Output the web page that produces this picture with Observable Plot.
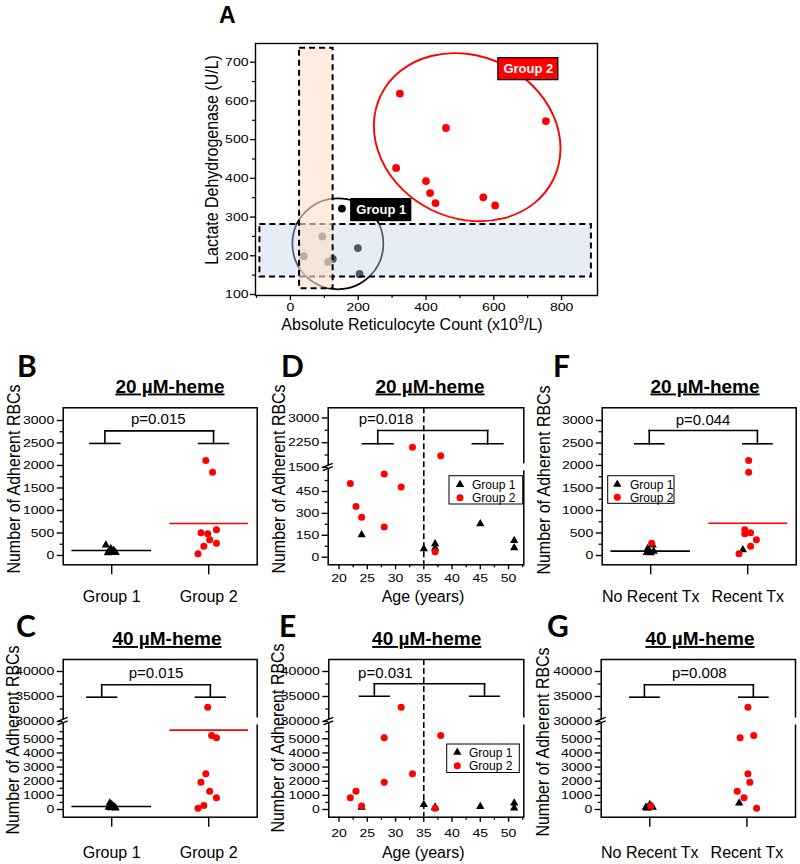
<!DOCTYPE html>
<html>
<head>
<meta charset="utf-8">
<script src="https://cdn.jsdelivr.net/npm/d3@7"></script>
<script src="https://cdn.jsdelivr.net/npm/@observablehq/plot@0.6"></script>
<style>
html,body{margin:0;padding:0;background:#fff;}
#fig{position:relative;width:800px;height:864px;overflow:hidden;background:#fff;}
</style>
</head>
<body>
<div id="fig"></div>
<script>
// ================= DATA =================
// Panel A : reticulocytes vs LDH
const aG1X = [152, 94, 39, 111, 125, 199, 204];
const aG1Y = [322, 250, 199, 184, 192, 220, 153];
const aG2X = [323, 312, 400, 412, 428, 459, 569, 604, 754];
const aG2Y = [619, 427, 393, 362, 336, 530, 351, 330, 548];
const aXTicks = [0, 200, 400, 600, 800];
const aXMinor = [-100, 100, 300, 500, 700];
const aYTicks = [100, 200, 300, 400, 500, 600, 700];
const aYMinor = [150, 250, 350, 450, 550, 650];
const aLabels = ["Group 1", "Group 2"];

// Panel B : 20 µM-heme by group
const bG1X = [0.94, 0.99, 1.02, 1.00, 0.97, 1.04, 0.96];
const bG1V = [229, 153, 114, 92, 64, 62, 57];
const bG2X = [1.97, 2.04, 1.92, 1.99, 2.08, 2.01, 2.08, 1.95, 1.89];
const bG2V = [2111, 1852, 504, 481, 570, 348, 274, 207, 37];
const bMeans = [111, 711];
// Panel C : 40 µM-heme by group
const cG1X = [0.97, 1.00, 1.03, 0.99, 1.02, 0.98, 1.04];
const cG1V = [160, 354, 150, 120, 212, 446, 100];
const cG2X = [1.99, 2.03, 2.08, 1.97, 1.92, 2.01, 2.08, 1.95, 1.89];
const cG2V = [32860, 5237, 5074, 2527, 1932, 1295, 828, 283, 92];
const cMeans = [212, 5610];
// Panel D : 20 µM-heme vs age
const dG1Age = [24, 35, 37, 37, 45, 51, 51];
const dG1V = [153, 57, 92, 62, 229, 114, 64];
const dG2Age = [22, 23, 24, 28, 28, 31, 33, 37, 38];
const dG2V = [504, 348, 274, 570, 207, 481, 2111, 37, 1852];
// Panel E : 40 µM-heme vs age
const eG1Age = [24, 35, 37, 37, 45, 51, 51];
const eG1V = [160, 354, 150, 120, 212, 446, 100];
const eG2Age = [22, 23, 24, 28, 28, 31, 33, 37, 38];
const eG2V = [828, 1295, 250, 5074, 1932, 32860, 2527, 92, 5237];
// Panel F : 20 µM-heme by transfusion
const fG1X = [0.97, 1.00, 1.03, 0.99, 1.02, 0.96, 1.95];
const fG1V = [153, 57, 92, 62, 229, 64, 125];
const fG2X = [1.01, 2.01, 2.01, 1.97, 1.97, 2.03, 2.09, 2.03, 1.91];
const fG2V = [274, 2111, 1852, 570, 481, 504, 348, 207, 37];
const fMeans = [96, 718];
// Panel G : 40 µM-heme by transfusion
const gG1X = [0.96, 1.00, 1.03, 0.98, 1.02, 0.97, 1.92];
const gG1V = [160, 354, 150, 120, 212, 100, 446];
const gG2X = [1.01, 2.01, 1.93, 2.07, 2.01, 2.03, 1.90, 1.97, 2.10];
const gG2V = [250, 32860, 5074, 5237, 2527, 1932, 1295, 828, 92];

// categories and tick labels
const groupCats = ["Group 1", "Group 2"];
const txCats = ["No Recent Tx", "Recent Tx"];
const ageTicks = [20, 25, 30, 35, 40, 45, 50];
const ageMinor = [22.5, 27.5, 32.5, 37.5, 42.5, 47.5, 52.5];
const y20Ticks = [0, 500, 1000, 1500, 2000, 2500, 3000];
const y20Minor = [250, 750, 1250, 1750, 2250, 2750];
const y20bTicks = [0, 150, 300, 450, 1500, 2250, 3000];
const y20bMinor = [75, 225, 375, 525, 1875, 2625];
const y40Ticks = [0, 1000, 2000, 3000, 4000, 5000, 30000, 35000, 40000];
const y40Minor = [500, 1500, 2500, 3500, 4500, 5500, 32500, 37500];
const pValues = {B: "p=0.015", C: "p=0.015", D: "p=0.018", E: "p=0.031", F: "p=0.044", G: "p=0.008"};

// ================= HELPERS =================
const FONT = "'Liberation Sans', Arial, Helvetica, sans-serif";
const RED = "#ff0000";
const TICK_FONT = 11.7, TICK_STRETCH = 1.2;
const fig = document.getElementById("fig");
function put(node, left, top) {
  node.style.position = "absolute";
  node.style.left = left + "px";
  node.style.top = top + "px";
  fig.appendChild(node);
}
const baseStyle = {fontFamily: FONT, fontSize: "14px", color: "black", background: "transparent", overflow: "visible"};

// widen numeric tick labels (the reference lettering is horizontally stretched)
function widenTicks(svg, axes) {
  for (const a of axes) {
    svg.querySelectorAll(`g[aria-label='${a}-axis tick label'] text`).forEach(t => {
      const tr = t.getAttribute("transform");
      if (tr && tr.includes("translate")) t.setAttribute("transform", tr + ` scale(${TICK_STRETCH},1)`);
    });
  }
}

// broken-axis mappings (value -> display coordinate)
const brk20 = v => v <= 615 ? v : 615 + (v - 1500) * 0.2256;
const brk40 = v => v <= 6224 ? v : 6224 + (v - 30000) * 0.3536;
const ident = v => v;

function breakMark(yd) {
  return (_, {y}, v, dim) => {
    const py = y(yd), xl = dim.marginLeft, xr = dim.width - dim.marginRight;
    const g = d3.create("svg:g");
    g.append("rect").attr("x", xr - 2).attr("y", py - 3.5).attr("width", 4).attr("height", 7).attr("fill", "white");
    g.append("path").attr("d", `M${xl-3},${py}L${xl+3},${py-2.5}L${xl+3},${py+0.5}L${xl-3},${py+3}Z`).attr("fill", "white");
    for (const o of [-1.6, 1.8]) {
      g.append("line").attr("x1", xl - 5).attr("y1", py + o + 2).attr("x2", xl + 5).attr("y2", py + o - 2)
        .attr("stroke", "black").attr("stroke-width", 1.4);
    }
    return g.node();
  };
}

function legendMark(L) {
  return (_, s, v, dim) => {
    const g = d3.create("svg:g").attr("text-anchor", "start");
    const x0 = dim.marginLeft + L.dx, y0 = dim.marginTop + L.dy;
    g.append("rect").attr("x", x0).attr("y", y0).attr("width", L.w).attr("height", L.h)
      .attr("fill", "white").attr("stroke", "black").attr("stroke-width", 1);
    const rows = [
      {sym: d3.symbolTriangle, size: Math.PI * 3.1 * 3.1, fill: "black", t: groupCats[0], y: L.r1},
      {sym: d3.symbolCircle, size: Math.PI * 3.5 * 3.5, fill: RED, t: groupCats[1], y: L.r2}
    ];
    for (const r of rows) {
      g.append("path").attr("d", d3.symbol(r.sym, r.size)()).attr("transform", `translate(${x0 + L.sx},${y0 + r.y})`).attr("fill", r.fill);
      g.append("text").attr("x", x0 + L.tx).attr("y", y0 + r.y).attr("dy", "0.36em").attr("text-anchor", "start")
        .attr("font-size", 12).attr("fill", "black").text(r.t);
    }
    return g.node();
  };
}

function makePanel(o) {
  const ym = o.ymap;
  const yLab = new Map(o.yTicks.map(v => [ym(v), String(v)]));
  const g1 = o.g1x.map((x, i) => ({x, y: ym(o.g1v[i])}));
  const g2 = o.g2x.map((x, i) => ({x, y: ym(o.g2v[i])}));
  const b = o.bracket;
  const segs = [
    {x1: b.xl - b.h, x2: b.xl + b.h, y1: b.yArm, y2: b.yArm},
    {x1: b.xl, x2: b.xl, y1: b.yArm, y2: b.yTop},
    {x1: b.xl, x2: b.xr, y1: b.yTop, y2: b.yTop},
    {x1: b.xr, x2: b.xr, y1: b.yTop, y2: b.yArm},
    {x1: b.xr - b.h, x2: b.xr + b.h, y1: b.yArm, y2: b.yArm}
  ].map(s => ({...s, y1: ym(s.y1), y2: ym(s.y2)}));
  const marks = [];
  if (o.vline != null) marks.push(Plot.ruleX([o.vline], {stroke: "black", strokeWidth: 1.6, strokeDasharray: "6,3"}));
  marks.push(Plot.link(segs, {x1: "x1", y1: "y1", x2: "x2", y2: "y2", stroke: "black", strokeWidth: 1.6, strokeLinecap: "square"}));
  marks.push(Plot.text([o.p], {x: "x", y: d => ym(d.y), text: "t", fontSize: 15, fill: "black"}));
  if (o.means) {
    marks.push(Plot.ruleY([o.means[0]], {y: d => ym(d), x1: 0.59, x2: 1.41, stroke: "black", strokeWidth: 1.6}));
    marks.push(Plot.ruleY([o.means[1]], {y: d => ym(d), x1: 1.6, x2: 2.41, stroke: RED, strokeWidth: 1.6}));
  }
  marks.push(Plot.dot(g1, {x: "x", y: "y", symbol: "triangle", r: 3.1, fill: "black"}));
  marks.push(Plot.dot(g2, {x: "x", y: "y", r: 3.5, fill: RED}));
  marks.push(Plot.frame({stroke: "black", strokeWidth: 1.5}));
  if (o.breakAt != null) marks.push(breakMark(ym(o.breakAt)));
  marks.push(Plot.axisY(o.yMinor.map(ym), {tickSize: 3, tickFormat: () => "", label: null, strokeWidth: 1.3}));
  marks.push(Plot.axisY(o.yTicks.map(ym), {tickSize: 6, tickPadding: 3, fontSize: TICK_FONT, label: null, strokeWidth: 1.4, tickFormat: d => yLab.get(d)}));
  if (o.cats) {
    marks.push(Plot.axisX([1, 2], {tickSize: 10, tickPadding: o.xPad, fontSize: 16, label: null, strokeWidth: 1.4, tickFormat: d => o.cats[d - 1]}));
  } else {
    marks.push(Plot.axisX(ageMinor, {tickSize: 3, tickFormat: () => "", label: null, strokeWidth: 1.3}));
    marks.push(Plot.axisX(ageTicks, {tickSize: 5, tickPadding: o.xPad, fontSize: TICK_FONT, label: null, strokeWidth: 1.4, tickFormat: d => String(d)}));
  }
  if (o.legend) marks.push(legendMark(o.legend));
  const svg = Plot.plot({
    width: o.width, height: o.height,
    marginLeft: o.ml, marginRight: o.mr, marginTop: o.mt, marginBottom: o.mb,
    style: baseStyle,
    x: {domain: o.xdom},
    y: {domain: o.ydom},
    marks
  });
  widenTicks(svg, o.cats ? ["y"] : ["x", "y"]);
  return svg;
}

// ================= PANEL A =================
{
  const g1 = aG1X.map((x, i) => ({x, y: aG1Y[i]}));
  const g2 = aG2X.map((x, i) => ({x, y: aG2Y[i]}));
  // annotation shapes (data coordinates)
  const blueBox = {x1: -90, x2: 888, y1: 145, y2: 281};
  const orangeBox = {x1: 27, x2: 126, y1: 115, y2: 736};
  const circ = {x: 140, y: 231};
  const ell = {x: 523, y: 505};
  const labelPos = [{t: aLabels[0], x: 268, y: 318, bg: "black"}, {t: aLabels[1], x: 702, y: 682, bg: RED}];
  const rectOpts = {x1: "x1", x2: "x2", y1: "y1", y2: "y2"};
  const svg = Plot.plot({
    width: 410, height: 300, marginLeft: 55, marginRight: 13, marginTop: 13, marginBottom: 35,
    style: baseStyle,
    x: {domain: [-103, 906]},
    y: {domain: [97.4, 748.3]},
    marks: [
      Plot.dot(g1, {x: "x", y: "y", r: 3.9, fill: "black"}),
      Plot.dot(g2, {x: "x", y: "y", r: 3.9, fill: RED}),
      Plot.dot([circ], {x: "x", y: "y", r: 45.5, fill: "none", stroke: "black", strokeWidth: 1.7}),
      (_, {x, y}) => {
        const cx = x(ell.x), cy = y(ell.y);
        const e = d3.create("svg:ellipse").attr("cx", cx).attr("cy", cy).attr("rx", 96).attr("ry", 81)
          .attr("transform", `rotate(26 ${cx} ${cy})`).attr("fill", "none").attr("stroke", RED).attr("stroke-width", 1.9);
        return e.node();
      },
      Plot.rect([blueBox], {...rectOpts, fill: "#c3d3ec", fillOpacity: 0.42}),
      Plot.rect([blueBox], {...rectOpts, fill: "none", stroke: "black", strokeWidth: 2, strokeDasharray: "6,4"}),
      Plot.rect([orangeBox], {...rectOpts, fill: "#fbe1cb", fillOpacity: 0.62}),
      Plot.rect([orangeBox], {...rectOpts, fill: "none", stroke: "black", strokeWidth: 2, strokeDasharray: "6,4"}),
      (_, {x, y}) => {
        const g = d3.create("svg:g");
        for (const l of labelPos) {
          g.append("rect").attr("x", x(l.x) - 30).attr("y", y(l.y) - 11).attr("width", 60).attr("height", 22)
            .attr("fill", l.bg).attr("stroke", "black").attr("stroke-width", 1.2);
        }
        return g.node();
      },
      Plot.text(labelPos, {x: "x", y: "y", text: "t", fill: "white", fontWeight: "bold", fontSize: 13}),
      Plot.frame({stroke: "black", strokeWidth: 1.4}),
      Plot.axisX(aXMinor, {tickSize: 3, tickFormat: () => "", label: null, strokeWidth: 1.2}),
      Plot.axisX(aXTicks, {tickSize: 5, tickPadding: 2, fontSize: TICK_FONT, label: null, strokeWidth: 1.3, tickFormat: d => String(d)}),
      Plot.axisY(aYMinor, {tickSize: 3, tickFormat: () => "", label: null, strokeWidth: 1.2}),
      Plot.axisY(aYTicks, {tickSize: 5, tickPadding: 2, fontSize: TICK_FONT, label: null, strokeWidth: 1.3, tickFormat: d => String(d)})
    ]
  });
  widenTicks(svg, ["x", "y"]);
  put(svg, 200, 30);
}

// ================= PANELS B-G =================
const row1 = {top: 395, height: 210, mt: 12.3, mb: 40.7};
const row2 = {top: 645, height: 219, mt: 14, mb: 47.3};

put(makePanel({
  width: 265, height: row1.height, ml: 62.7, mr: 8.3, mt: row1.mt, mb: row1.mb,
  xdom: [0.5, 2.5], ydom: [-207, 3282], ymap: ident,
  yTicks: y20Ticks, yMinor: y20Minor, cats: groupCats, xPad: 16,
  g1x: bG1X, g1v: bG1V, g2x: bG2X, g2v: bG2V, means: bMeans,
  bracket: {xl: 0.93, xr: 2.05, h: 0.154, yTop: 2770, yArm: 2490},
  p: {x: 1.48, y: 3038, t: pValues.B}
}), 0, row1.top);

put(makePanel({
  width: 265, height: row2.height, ml: 62.7, mr: 8.3, mt: row2.mt, mb: row2.mb,
  xdom: [0.5, 2.5], ydom: [-545, 10608], ymap: brk40, breakAt: 30000,
  yTicks: y40Ticks, yMinor: y40Minor, cats: groupCats, xPad: 19,
  g1x: cG1X, g1v: cG1V, g2x: cG2X, g2v: cG2V, means: cMeans,
  bracket: {xl: 0.897, xr: 2.017, h: 0.153, yTop: 37340, yArm: 34860},
  p: {x: 1.457, y: 39737, t: pValues.C}
}), 0, row2.top);

put(makePanel({
  width: 270, height: row1.height, ml: 62.7, mr: 11.7, mt: row1.mt, mb: row1.mb,
  xdom: [18.08, 52.7], ydom: [-52, 1023], ymap: brk20, breakAt: 1500,
  yTicks: y20bTicks, yMinor: y20bMinor, xPad: 4, vline: 35,
  g1x: dG1Age, g1v: dG1V, g2x: dG2Age, g2v: dG2V,
  bracket: {xl: 26.85, xr: 46.3, h: 2.7, yTop: 2621, yArm: 2217},
  p: {x: 28.3, y: 2976, t: pValues.D},
  legend: {dx: 121.3, dy: 68.4, w: 73.7, h: 28.3, sx: 11, tx: 23, r1: 8.8, r2: 22}
}), 265, row1.top);

put(makePanel({
  width: 270, height: row2.height, ml: 63.3, mr: 11.7, mt: row2.mt, mb: row2.mb,
  xdom: [18.19, 52.7], ydom: [-545, 10608], ymap: brk40, breakAt: 30000,
  yTicks: y40Ticks, yMinor: y40Minor, xPad: 6, vline: 35,
  g1x: eG1Age, g1v: eG1V, g2x: eG2Age, g2v: eG2V,
  bracket: {xl: 26.25, xr: 45.75, h: 2.63, yTop: 37540, yArm: 35060},
  p: {x: 28.2, y: 39737, t: pValues.E},
  legend: {dx: 118.4, dy: 85, w: 72.6, h: 28.5, sx: 10.6, tx: 22.3, r1: 8.3, r2: 21.8}
}), 265, row2.top);

put(makePanel({
  width: 265, height: row1.height, ml: 66.7, mr: 4.3, mt: row1.mt, mb: row1.mb,
  xdom: [0.5, 2.5], ydom: [-207, 3282], ymap: ident,
  yTicks: y20Ticks, yMinor: y20Minor, cats: txCats, xPad: 16,
  g1x: fG1X, g1v: fG1V, g2x: fG2X, g2v: fG2V, means: fMeans,
  bracket: {xl: 0.985, xr: 2.1, h: 0.15, yTop: 2778, yArm: 2482},
  p: {x: 1.54, y: 3016, t: pValues.F},
  legend: {dx: 6, dy: 68.4, w: 66.3, h: 27.6, sx: 9.6, tx: 22.3, r1: 8.6, r2: 21.5}
}), 535, row1.top);

put(makePanel({
  width: 265, height: row2.height, ml: 65.7, mr: 5, mt: row2.mt, mb: row2.mb,
  xdom: [0.5, 2.5], ydom: [-545, 10608], ymap: brk40, breakAt: 30000,
  yTicks: y40Ticks, yMinor: y40Minor, cats: txCats, xPad: 19,
  g1x: gG1X, g1v: gG1V, g2x: gG2X, g2v: gG2V,
  bracket: {xl: 0.945, xr: 2.066, h: 0.15, yTop: 37340, yArm: 34860},
  p: {x: 1.51, y: 39737, t: pValues.G}
}), 535, row2.top);

// ================= TEXT OVERLAY =================
{
  const ov = d3.create("svg").attr("width", 800).attr("height", 864)
    .attr("style", "position:absolute;left:0;top:0;pointer-events:none;overflow:visible")
    .attr("font-family", FONT).attr("fill", "black");
  // panel letters
  ov.append("text").attr("x", 219).attr("y", 23.3).attr("font-size", 23).attr("font-weight", "bold").text("A");
  const letters = [["B", 17, 377], ["C", 16, 637], ["D", 281, 377], ["E", 279, 637], ["F", 553, 377], ["G", 547, 637]];
  for (const [t, x, y] of letters) {
    ov.append("text").attr("x", x).attr("y", y).attr("font-family", "Lato, 'Open Sans', sans-serif")
      .attr("font-size", 30).attr("font-weight", 700).text(t);
  }
  // panel titles
  const titles = [["20 µM-heme", 170, 392.5], ["40 µM-heme", 167, 645], ["20 µM-heme", 430, 392.5],
                  ["40 µM-heme", 426.7, 645], ["20 µM-heme", 705, 392.5], ["40 µM-heme", 700, 645]];
  for (const [t, x, y] of titles) {
    ov.append("text").attr("x", x).attr("y", y).attr("text-anchor", "middle").attr("font-size", 19)
      .attr("font-weight", "bold").attr("text-decoration", "underline").style("text-decoration", "underline").text(t);
  }
  // y axis titles (glyphs slightly stretched across, like the reference)
  const yTitles = [["Number of Adherent RBCs", 20, 479], ["Number of Adherent RBCs", 19, 740],
                   ["Number of Adherent RBCs", 285, 479], ["Number of Adherent RBCs", 284, 738],
                   ["Number of Adherent RBCs", 550, 480], ["Number of Adherent RBCs", 549, 742],
                   ["Lactate Dehydrogenase (U/L)", 218, 160]];
  for (const [t, x, y] of yTitles) {
    ov.append("text").attr("transform", `translate(${x},${y}) rotate(-90) scale(1,1.12)`).attr("text-anchor", "middle")
      .attr("font-size", 16).text(t);
  }
  // x axis titles
  const xa = ov.append("text").attr("x", 412).attr("y", 330).attr("text-anchor", "middle").attr("font-size", 16);
  xa.append("tspan").text("Absolute Reticulocyte Count (x10");
  xa.append("tspan").attr("font-size", 11).attr("dy", -7).text("9");
  xa.append("tspan").attr("dy", 7).text("/L)");
  ov.append("text").attr("x", 423).attr("y", 602).attr("text-anchor", "middle").attr("font-size", 16).text("Age (years)");
  ov.append("text").attr("x", 423.3).attr("y", 858.3).attr("text-anchor", "middle").attr("font-size", 16).text("Age (years)");
  fig.appendChild(ov.node());
}
</script>
</body>
</html>
